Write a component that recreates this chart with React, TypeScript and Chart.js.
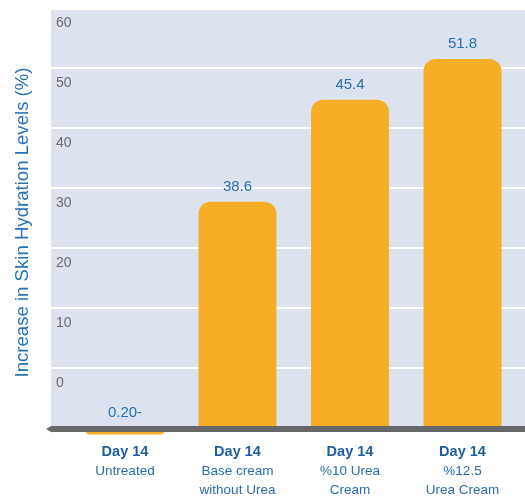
import React, { useEffect, useRef } from 'react';
import { Chart, registerables } from 'chart.js';

Chart.register(...registerables);

// ---- data ----
const dayLabels = ['Day 14', 'Day 14', 'Day 14', 'Day 14'];
const categoryLines = [
  ['Untreated'],
  ['Base cream', 'without Urea'],
  ['%10 Urea', 'Cream'],
  ['%12.5', 'Urea Cream'],
];
// bar tops as read against the printed axis (bars rise from the baseline band)
const barValues = [-11.1, 27.7, 44.7, 51.5];
// printed value annotations
const valueLabels = ['0.20-', '38.6', '45.4', '51.8'];
const yTickValues = [0, 10, 20, 30, 40, 50, 60];
const barBase = -10;
const yMin = -11.5;
const yMax = 60;
const yTitle = 'Increase in Skin Hydration Levels (%)';

const FONT = "'Liberation Sans', Arial, Helvetica, sans-serif";

const decorPlugin = {
  id: 'decor',
  beforeDraw(chart: any) {
    const { ctx, chartArea } = chart;
    const ys = chart.scales.y;
    const left = chartArea.left - 17.75;
    const right = chart.width;
    const top = chartArea.top + 2;
    const bottom = ys.getPixelForValue(barBase);
    ctx.save();
    ctx.fillStyle = '#dce3ef';
    ctx.fillRect(left, top, right - left, bottom - top);
    ctx.strokeStyle = '#ffffff';
    ctx.lineWidth = 2;
    yTickValues.forEach((v) => {
      const py = ys.getPixelForValue(v);
      if (py > top + 1 && py < bottom) {
        ctx.beginPath();
        ctx.moveTo(left, py);
        ctx.lineTo(right, py);
        ctx.stroke();
      }
    });
    ctx.restore();
  },
  afterDatasetsDraw(chart: any) {
    const { ctx, chartArea } = chart;
    const ys = chart.scales.y;
    const left = chartArea.left - 17.75;
    const right = chart.width;
    const py = ys.getPixelForValue(barBase);
    ctx.save();
    // baseline band with arrow tip
    ctx.fillStyle = '#666768';
    ctx.fillRect(left, py - 2, right - left, 6);
    ctx.beginPath();
    ctx.moveTo(left - 5, py + 1);
    ctx.lineTo(left + 1, py - 2.5);
    ctx.lineTo(left + 1, py + 4.5);
    ctx.closePath();
    ctx.fill();
    // value labels
    ctx.fillStyle = '#2a6fb3';
    ctx.font = `15px ${FONT}`;
    ctx.textAlign = 'center';
    ctx.textBaseline = 'alphabetic';
    const meta = chart.getDatasetMeta(0);
    meta.data.forEach((bar: any, i: number) => {
      const p = bar.getProps(['x', 'y', 'base'], true);
      const t = Math.min(p.y, p.base);
      ctx.fillText(valueLabels[i], p.x, t - 11);
    });
    ctx.restore();
  },
};

export default function App() {
  const ref = useRef<HTMLCanvasElement>(null);
  useEffect(() => {
    if (!ref.current) return;
    const chart = new Chart(ref.current, {
      type: 'bar',
      data: {
        labels: dayLabels,
        datasets: [
          {
            data: barValues,
            base: barBase,
            backgroundColor: '#f6ae27',
            borderWidth: 0,
            borderRadius: 12,
            borderSkipped: 'start',
            barPercentage: 0.693,
            categoryPercentage: 1,
            xAxisID: 'x',
            yAxisID: 'y',
          } as any,
        ],
      },
      options: {
        animation: false,
        responsive: true,
        maintainAspectRatio: false,
        devicePixelRatio: 1,
        layout: { padding: { left: 0, right: 6.25, top: 8, bottom: 0 } },
        plugins: {
          legend: { display: false },
          tooltip: { enabled: false },
        },
        scales: {
          y: {
            type: 'linear',
            position: 'left',
            min: yMin,
            max: yMax,
            afterBuildTicks: (scale: any) => {
              scale.ticks = yTickValues.map((value) => ({ value }));
            },
            afterFit: (scale: any) => {
              scale.width = 68.75;
            },
            grid: { display: false, drawTicks: false },
            border: { display: false },
            ticks: {
              mirror: true,
              padding: -12.75,
              labelOffset: 15,
              color: '#6b6b6b',
              font: { family: FONT, size: 14 },
            },
            title: {
              display: true,
              text: yTitle,
              color: '#2574b7',
              font: { family: FONT, size: 18.6 },
              padding: { top: 11.3, bottom: 0 },
            },
          },
          x: {
            type: 'category',
            position: 'bottom',
            offset: true,
            weight: 0,
            afterFit: (scale: any) => {
              scale.height = 22;
            },
            grid: { display: false, drawTicks: false },
            border: { display: false },
            ticks: {
              padding: 6.5,
              color: '#1d5f9f',
              font: { family: FONT, size: 14.5, weight: 'bold' },
              callback: (_v: any, i: number) => dayLabels[i],
            },
          },
          x2: {
            type: 'category',
            axis: 'x',
            position: 'bottom',
            offset: true,
            weight: 1,
            afterFit: (scale: any) => {
              scale.height = 38;
            },
            grid: { display: false, drawTicks: false },
            border: { display: false },
            ticks: {
              padding: 3,
              color: '#2a6cae',
              font: { family: FONT, size: 13.5, lineHeight: 1.4 },
              callback: (_v: any, i: number) => categoryLines[i],
            },
          } as any,
        },
      },
      plugins: [decorPlugin],
    });
    return () => chart.destroy();
  }, []);
  return (
    <div style={{ position: 'fixed', left: 0, top: 0, width: 525, height: 497 }}>
      <canvas ref={ref} />
    </div>
  );
}
